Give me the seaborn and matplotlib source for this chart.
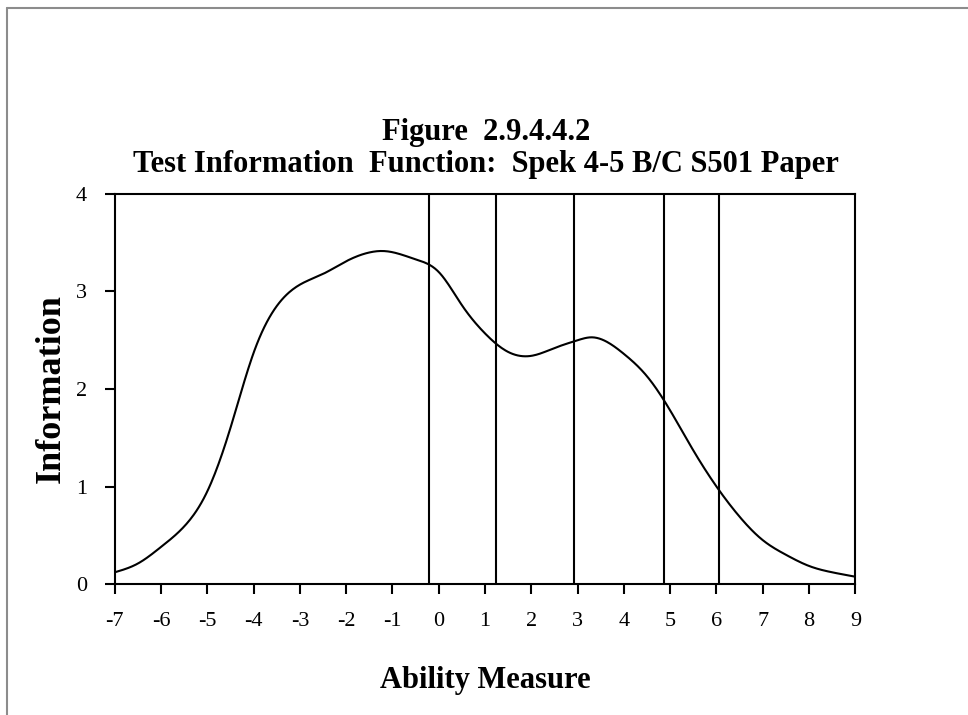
import numpy as np
import pandas as pd
import matplotlib
matplotlib.use("Agg")
import matplotlib.pyplot as plt
from matplotlib.lines import Line2D
import seaborn as sns

# ---- data ----
ability = [-7, -6.5, -6, -5.5, -5, -4.5, -4, -3.5, -3, -2.5, -2, -1.5, -1.2,
           -0.5, 0, 0.5, 1, 1.5, 2, 2.5, 3, 3.3, 4, 4.5, 5, 5.5, 6, 6.5,
           7, 7.5, 8, 8.5, 9]
information = [0.12, 0.21, 0.38, 0.59, 0.95, 1.60, 2.37, 2.85, 3.07, 3.18, 3.31,
               3.40, 3.415, 3.33, 3.20, 2.86, 2.57, 2.38, 2.34, 2.42, 2.50,
               2.53, 2.36, 2.13, 1.78, 1.37, 1.00, 0.69, 0.45, 0.30, 0.185,
               0.12, 0.075]
cut_points = [-0.22, 1.23, 2.92, 4.86, 6.06]
x_ticks = list(range(-7, 10))
y_ticks = [0, 1, 2, 3, 4]

title_text = "Figure  2.9.4.4.2\nTest Information  Function:  Spek 4-5 B/C S501 Paper"
x_label = "Ability Measure"
y_label = "Information"


def natural_spline(xp, yp, n=600):
    xp = np.asarray(xp, float)
    yp = np.asarray(yp, float)
    k = len(xp)
    h = np.diff(xp)
    A = np.zeros((k, k))
    b = np.zeros(k)
    A[0, 0] = A[-1, -1] = 1
    for i in range(1, k - 1):
        A[i, i - 1] = h[i - 1]
        A[i, i] = 2 * (h[i - 1] + h[i])
        A[i, i + 1] = h[i]
        b[i] = 3 * ((yp[i + 1] - yp[i]) / h[i] - (yp[i] - yp[i - 1]) / h[i - 1])
    c = np.linalg.solve(A, b)
    xx = np.linspace(xp[0], xp[-1], n)
    idx = np.clip(np.searchsorted(xp, xx) - 1, 0, k - 2)
    dx = xx - xp[idx]
    bb = (yp[idx + 1] - yp[idx]) / h[idx] - h[idx] * (2 * c[idx] + c[idx + 1]) / 3
    dd = (c[idx + 1] - c[idx]) / (3 * h[idx])
    yy = yp[idx] + bb * dx + c[idx] * dx ** 2 + dd * dx ** 3
    return xx, yy


cx, cy = natural_spline(ability, information)
df = pd.DataFrame({"ability": cx, "information": cy})

sns.set_theme(style="white")
plt.rcParams["font.family"] = ["Liberation Serif", "DejaVu Serif"]

fig = plt.figure(figsize=(9.68, 7.15), dpi=100)
ax = fig.add_axes([0.1185, 0.1832, 0.7651, 0.5455])

sns.lineplot(data=df, x="ability", y="information", ax=ax, color="black",
             linewidth=1.5, sort=False, estimator=None)
for c in cut_points:
    ax.axvline(c, color="black", linewidth=1.5)

ax.set_xlim(-7, 9)
ax.set_ylim(0, 4)
ax.set_xticks(x_ticks)
ax.set_yticks(y_ticks)
ax.set_xticklabels([str(t) for t in x_ticks])
ax.set_yticklabels([str(t) for t in y_ticks])
ax.tick_params(axis="both", which="major", direction="out", length=7, width=1.5,
               color="black", labelsize=16, labelcolor="black",
               bottom=True, left=True, top=False, right=False)
ax.tick_params(axis="x", pad=13)
ax.tick_params(axis="y", pad=13)
for s in ax.spines.values():
    s.set_visible(True)
    s.set_color("black")
    s.set_linewidth(1.5)

ax.set_xlabel(x_label, fontsize=22, fontweight="bold", labelpad=25, color="black")
ax.set_ylabel(y_label, fontsize=26, fontweight="bold", labelpad=6, color="black")
fig.text(0.502, 0.749, title_text, ha="center", va="bottom", fontsize=22,
         fontweight="bold", linespacing=1.15, color="black")

# gray frame lines (top and left) like the reference
fig.add_artist(Line2D([7/968, 1.0], [1 - 8/715, 1 - 8/715], color="#8c8c8c", linewidth=1.5))
fig.add_artist(Line2D([7/968, 7/968], [0, 1 - 8/715], color="#8c8c8c", linewidth=1.5))

fig.savefig("out.png", dpi=100)
